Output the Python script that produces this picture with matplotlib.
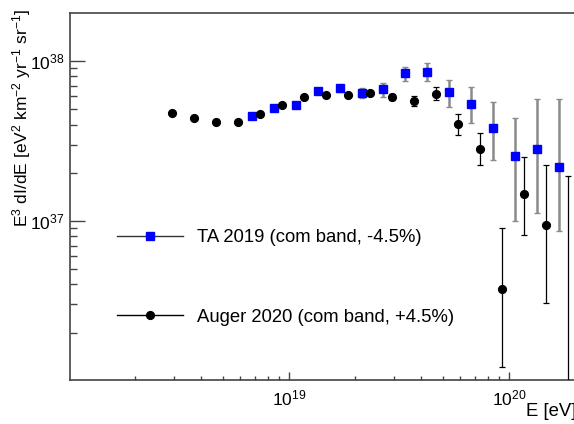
"""
UHECR spectrum: TA 2019 vs Auger 2020 (energy-shifted), E^3 dI/dE
"""

import matplotlib
matplotlib.use('Agg')
import matplotlib.pyplot as plt
from matplotlib.lines import Line2D
import numpy as np

# ROOT-like look: Helvetica -> Liberation Sans
plt.rcParams['font.family'] = ['Liberation Sans', 'DejaVu Sans']
plt.rcParams['mathtext.fontset'] = 'custom'
plt.rcParams['mathtext.rm'] = 'Liberation Sans'
plt.rcParams['mathtext.it'] = 'Liberation Sans:italic'
plt.rcParams['mathtext.bf'] = 'Liberation Sans:bold'

# ---- data (log10 E [eV], flux in units of 1e37) ----
ta_logE = [18.83, 18.93, 19.03, 19.13, 19.23, 19.33, 19.43, 19.53,
           19.63, 19.73, 19.83, 19.93, 20.03, 20.13, 20.23]
ta_flux = [4.53, 5.06, 5.33, 6.52, 6.75, 6.31, 6.65, 8.38,
           8.54, 6.37, 5.38, 3.83, 2.54, 2.81, 2.17]
ta_hi = [4.60, 5.14, 5.42, 6.66, 7.08, 6.78, 7.26, 9.21,
         9.68, 7.57, 6.88, 5.57, 4.38, 5.81, 5.79]
ta_lo = [4.46, 4.98, 5.24, 6.38, 6.37, 5.87, 5.98, 7.47,
         7.47, 5.14, 4.11, 2.39, 1.00, 1.12, 0.866]

auger_logE = [18.47, 18.57, 18.67, 18.77, 18.87, 18.97, 19.07, 19.17, 19.27, 19.37,
              19.47, 19.57, 19.67, 19.77, 19.87, 19.97, 20.07, 20.17, 20.27]
auger_flux = [4.73, 4.40, 4.18, 4.16, 4.69, 5.31, 5.98, 6.11, 6.11, 6.34,
              5.96, 5.65, 6.22, 4.02, 2.82, 0.374, 1.48, 0.942, 0.06]
auger_hi = [4.80, 4.46, 4.24, 4.23, 4.76, 5.39, 6.07, 6.21, 6.23, 6.50,
            6.23, 6.07, 6.85, 4.69, 3.56, 0.896, 2.52, 2.23, 1.91]
auger_lo = [4.66, 4.34, 4.12, 4.10, 4.62, 5.23, 5.89, 6.01, 5.99, 6.18,
            5.70, 5.24, 5.68, 3.45, 2.23, 0.122, 0.818, 0.308, 0.01]

labels = ['TA 2019 (com band, -4.5%)', 'Auger 2020 (com band, +4.5%)']

AXIS_COLOR = '#444444'


def _points(logE, flux, lo, hi):
    """log10 E -> E, 1e37 units -> absolute, asymmetric errors"""
    E = 10 ** np.array(logE)
    y = np.array(flux) * 1e37
    yerr = [y - np.array(lo) * 1e37, np.array(hi) * 1e37 - y]
    return E, y, yerr


fig = plt.figure(figsize=(5.74, 4.24), dpi=100)
# axes right edge runs past the figure (picture is cropped on the right)
ax = fig.add_axes([70 / 574, 44 / 424, 530 / 574, 367 / 424])

E, y, yerr = _points(ta_logE, ta_flux, ta_lo, ta_hi)
ax.errorbar(E, y, yerr=yerr, fmt='s', color='blue', ms=5.2, mec='blue',
            ecolor='#8a8a8a', elinewidth=1.8, capsize=2, capthick=1.0, zorder=3)

E, y, yerr = _points(auger_logE, auger_flux, auger_lo, auger_hi)
ax.errorbar(E, y, yerr=yerr, fmt='o', color='black', ms=5.6,
            ecolor='black', elinewidth=0.9, capsize=2, capthick=0.9, zorder=4)

ax.set_xscale('log')
ax.set_yscale('log')
ax.set_xlim(1.01e18, 10 ** 20.4146)
ax.set_ylim(1.01e36, 10 ** 38.3)

ax.tick_params(axis='both', which='both', direction='in', color=AXIS_COLOR,
               width=1, labelsize=12.5, top=False, right=False)
ax.tick_params(axis='y', which='major', length=10.5, pad=4)
ax.tick_params(axis='y', which='minor', length=5.3)
ax.tick_params(axis='x', which='major', length=6, pad=6)
ax.tick_params(axis='x', which='minor', length=3.2)
for sp in ax.spines.values():
    sp.set_color(AXIS_COLOR)
    sp.set_linewidth(1.2)

ax.set_ylabel(r'E$^{3}$ dI/dE [eV$^{2}$ km$^{-2}$ yr$^{-1}$ sr$^{-1}$]',
              fontsize=12.5, loc='top')
ax.yaxis.set_label_coords(-0.07, 1.012)
ax.set_xlabel('E [eV]', fontsize=13.3)
ax.xaxis.label.set_ha('left')
ax.xaxis.set_label_coords((526 - 70) / 530, -0.062)

# legend: horizontal error line + marker, no frame
h_ta = Line2D([], [], color='#333333', lw=1, marker='s', ms=5.2,
              mfc='blue', mec='blue')
h_au = Line2D([], [], color='black', lw=1, marker='o', ms=5.6,
              mfc='black', mec='black')
ax.legend([h_ta, h_au], labels, loc='center left',
          bbox_to_anchor=(117 / 574, 1 - 277.5 / 424),
          bbox_transform=fig.transFigure, frameon=False, fontsize=13.3,
          handlelength=3.57, handletextpad=0.76, labelspacing=3.38,
          borderpad=0, borderaxespad=0)

fig.savefig('out.png', dpi=100)
